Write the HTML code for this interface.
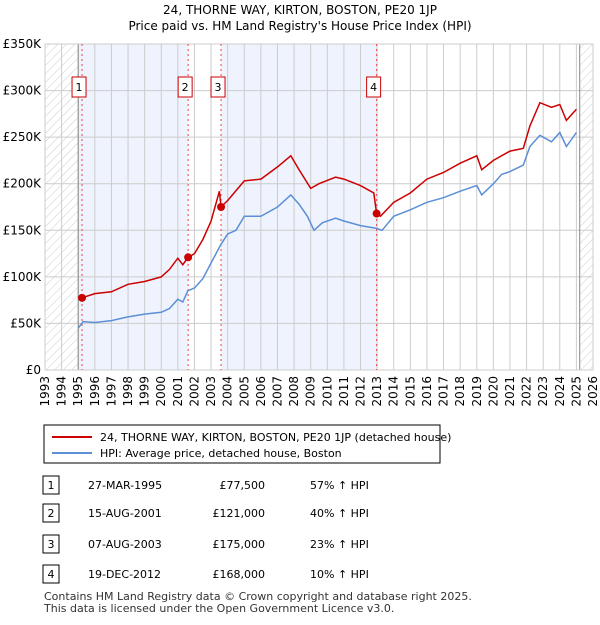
<!DOCTYPE html>
<html><head><meta charset="utf-8"><style>
body{margin:0;background:#fff;font-family:"Liberation Sans","DejaVu Sans",sans-serif;}
svg text{font-family:"DejaVu Sans","Liberation Sans",sans-serif;}
</style></head><body>
<svg id="c" width="600" height="620">
<defs><pattern id="hatch" width="6" height="6" patternUnits="userSpaceOnUse" patternTransform="rotate(45)"><line x1="0" y1="0" x2="0" y2="6" stroke="#ccc" stroke-width="1"/></pattern></defs>
<text x="300" y="14" text-anchor="middle" font-size="12">24, THORNE WAY, KIRTON, BOSTON, PE20 1JP</text>
<text x="300" y="30" text-anchor="middle" font-size="12">Price paid vs. HM Land Registry's House Price Index (HPI)</text>
<g id="plot"></g>
<rect x="44" y="425" width="396" height="38" fill="#fff" stroke="#000"/>
<line x1="52" y1="437" x2="92" y2="437" stroke="#cc0000" stroke-width="2"/>
<text x="100" y="441" font-size="11">24, THORNE WAY, KIRTON, BOSTON, PE20 1JP (detached house)</text>
<line x1="52" y1="453" x2="92" y2="453" stroke="#5b8fd6" stroke-width="2"/>
<text x="100" y="457" font-size="11">HPI: Average price, detached house, Boston</text>
<g id="tbl" font-size="11"></g>
<text x="44" y="600" font-size="11" fill="#333">Contains HM Land Registry data © Crown copyright and database right 2025.</text>
<text x="44" y="612" font-size="11" fill="#333">This data is licensed under the Open Government Licence v3.0.</text>
</svg>
<script>
const hpiYears=[1995.0,1995.3,1996,1997,1998,1999,2000,2000.5,2001,2001.3,2001.6,2002,2002.5,2003,2003.6,2004,2004.5,2005,2006,2007,2007.8,2008.3,2008.8,2009.2,2009.7,2010.5,2011,2012,2012.97,2013.3,2014,2015,2016,2017,2018,2019,2019.3,2020,2020.5,2021,2021.8,2022.2,2022.8,2023.5,2024,2024.4,2025];
const hpiValues=[45,52,51,53,57,60,62,66,76,73,85,88,98,115,135,146,150,165,165,175,188,178,165,150,158,163,160,155,152,150,165,172,180,185,192,198,188,200,210,213,220,240,252,245,255,240,255];
const redYears=[1995.23,1996,1997,1998,1999,2000,2000.5,2001,2001.3,2001.62,2002,2002.5,2003,2003.5,2003.6,2004,2005,2006,2007,2007.8,2008.3,2009,2009.5,2010.5,2011,2012,2012.8,2012.97,2013.2,2014,2015,2016,2017,2018,2019,2019.3,2020,2021,2021.8,2022.2,2022.8,2023.5,2024,2024.4,2025];
const redValues=[77.5,82,84,92,95,100,108,120,113,121,125,140,160,192,175,182,203,205,218,230,215,195,200,207,205,198,190,168,165,180,190,205,212,222,230,215,225,235,238,262,287,282,285,268,280];
const saleYears=[1995.23,2001.62,2003.6,2012.97];
const salePrices=[77.5,121,175,168];
const saleLabels=["1","2","3","4"];
const yTicks=[0,50,100,150,200,250,300,350];
const yTickLabels=["£0","£50K","£100K","£150K","£200K","£250K","£300K","£350K"];
const xTicks=[1993,1994,1995,1996,1997,1998,1999,2000,2001,2002,2003,2004,2005,2006,2007,2008,2009,2010,2011,2012,2013,2014,2015,2016,2017,2018,2019,2020,2021,2022,2023,2024,2025,2026];
const tDates=["27-MAR-1995","15-AUG-2001","07-AUG-2003","19-DEC-2012"];
const tPrices=["£77,500","£121,000","£175,000","£168,000"];
const tPct=["57% ↑ HPI","40% ↑ HPI","23% ↑ HPI","10% ↑ HPI"];

const X0=45,X1=593,Y0=370,Y1=44;
const xs=y=>X0+(y-1993)/(2026-1993)*(X1-X0);
const ys=v=>Y0-v/350*(Y0-Y1);
const NS="http://www.w3.org/2000/svg";
const g=document.getElementById('plot');
function mk(t,a,p){const e=document.createElementNS(NS,t);for(const k in a)e.setAttribute(k,a[k]);(p||g).appendChild(e);return e;}
let e;
e=mk('rect',{x:xs(1995),y:Y1,width:xs(saleYears[1])-xs(1995),height:Y0-Y1,fill:'#eef3fd'});


e=mk('rect',{x:xs(saleYears[2]),y:Y1,width:xs(saleYears[3])-xs(saleYears[2]),height:Y0-Y1,fill:'#eef3fd'});


e=mk('rect',{x:X0,y:Y1,width:xs(1995)-X0,height:Y0-Y1,fill:'url(#hatch)'});


e=mk('rect',{x:xs(2025.2),y:Y1,width:X1-xs(2025.2),height:Y0-Y1,fill:'url(#hatch)'});


yTicks.forEach((v,i)=>{
 e=mk('line',{x1:X0,x2:X1,y1:ys(v),y2:ys(v),stroke:'#ccc'});
 
 
 e=mk('text',{x:X0-4,y:ys(v)+4,'text-anchor':'end','font-size':12});
 e.textContent=yTickLabels[i];
 
 
});
xTicks.forEach(t=>{
 e=mk('line',{x1:xs(t),x2:xs(t),y1:Y1,y2:Y0,stroke:'#ccc'});
 
 
 e=mk('text',{transform:`translate(${xs(t)+4},${Y0+6}) rotate(-90)`,'text-anchor':'end','font-size':12});
 e.textContent=t;
 
 
});
e=mk('line',{x1:xs(1995),x2:xs(1995),y1:Y1,y2:Y0,stroke:'#888'});


e=mk('line',{x1:xs(2025.2),x2:xs(2025.2),y1:Y1,y2:Y0,stroke:'#888'});


e=mk('rect',{x:X0,y:Y1,width:X1-X0,height:Y0-Y1,fill:'none',stroke:'#ccc'});


saleYears.forEach((y,i)=>{
 e=mk('line',{x1:xs(y),x2:xs(y),y1:Y1,y2:Y0,stroke:'#e44','stroke-dasharray':'2,3'});
 
 
 const bx=xs(y)-3;
 e=mk('rect',{x:bx-7,y:77,width:14,height:20,fill:'#fff',stroke:'#cc0000'});
 
 
 e=mk('text',{x:bx,y:91,'text-anchor':'middle','font-size':11});
 e.textContent=saleLabels[i];
 
 
});
const pts=(a,b)=>a.map((y,i)=>xs(y).toFixed(1)+','+ys(b[i]).toFixed(1)).join(' ');
e=mk('polyline',{points:pts(hpiYears,hpiValues),fill:'none',stroke:'#5b8fd6','stroke-width':1.5});


e=mk('polyline',{points:pts(redYears,redValues),fill:'none',stroke:'#cc0000','stroke-width':1.5});


saleYears.forEach((y,i)=>{
 e=mk('circle',{cx:xs(y),cy:ys(salePrices[i]),r:4,fill:'#cc0000'});
 
 
});
const tb=document.getElementById('tbl');
const rowY=[486,514,545,575];
rowY.forEach((ry,i)=>{
 e=mk('rect',{x:43,y:ry-10,width:16,height:18,fill:'#fff',stroke:'#000'},tb);
 
 
 e=mk('text',{x:51,y:ry+3,'text-anchor':'middle'},tb);e.textContent=saleLabels[i];
 
 
 e=mk('text',{x:88,y:ry+3},tb);e.textContent=tDates[i];
 
 
 e=mk('text',{x:265,y:ry+3,'text-anchor':'end'},tb);e.textContent=tPrices[i];
 
 
 e=mk('text',{x:310,y:ry+3},tb);e.textContent=tPct[i];
 
 
});
</script>
</body></html>
